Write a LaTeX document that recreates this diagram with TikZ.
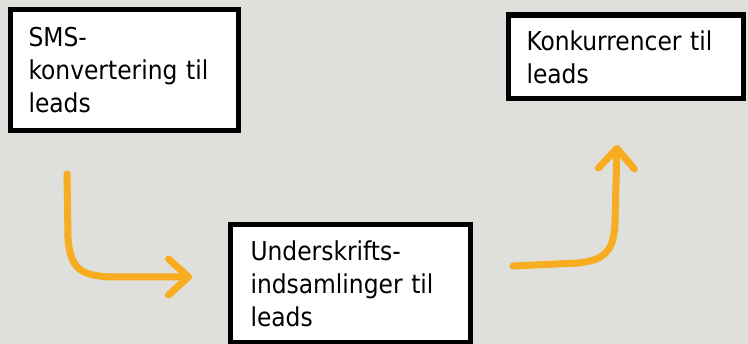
\documentclass[tikz,border=0pt]{standalone}
\usepackage{fontspec}
\setmainfont{DejaVu Sans Condensed}
\usetikzlibrary{arrows.meta}
\definecolor{bgc}{HTML}{DFDFDB}
\definecolor{orng}{HTML}{F8AC1F}
\tikzset{
  box/.style={draw=black, line width=5.5pt, fill=white, rectangle, align=left,
    font=\fontsize{26}{33}\selectfont, inner ysep=0pt},
  flow/.style={draw=orng, line width=7pt, line cap=round, line join=round,
    -{Straight Barb[length=20pt, width=36pt, round]}}
}
\begin{document}
\begin{tikzpicture}[x=1pt, y=-1pt]
\useasboundingbox (0,0) rectangle (748,344);
\fill[bgc] (0,0) rectangle (748,344);
\node[box, minimum width=228pt, minimum height=121pt, inner xsep=18pt, text width=192pt] (sms) at (124.5,70) {SMS-\\konvertering til\\leads};
\node[box, minimum width=235pt, minimum height=83.5pt, inner xsep=18pt, text width=199pt] (konk) at (626,57) {Konkurrencer til\\leads};
\node[box, minimum width=240pt, minimum height=118.5pt, inner xsep=20pt, text width=200pt] (unders) at (350.5,284) {Underskrifts-\\indsamlinger til\\leads};
\coordinate (a1s) at (67,174);
\coordinate (a1e) at (192,277);
\coordinate (a2s) at (513,266);
\coordinate (a2e) at (617,145);
\draw[flow] (a1s) -- (68,238) .. controls (70,268) and (80,276) .. (112,277) -- (a1e);
\draw[flow] (a2s) -- (578,263) .. controls (606,260) and (614,250) .. (615,222) -- (a2e);
\end{tikzpicture}
\end{document}
